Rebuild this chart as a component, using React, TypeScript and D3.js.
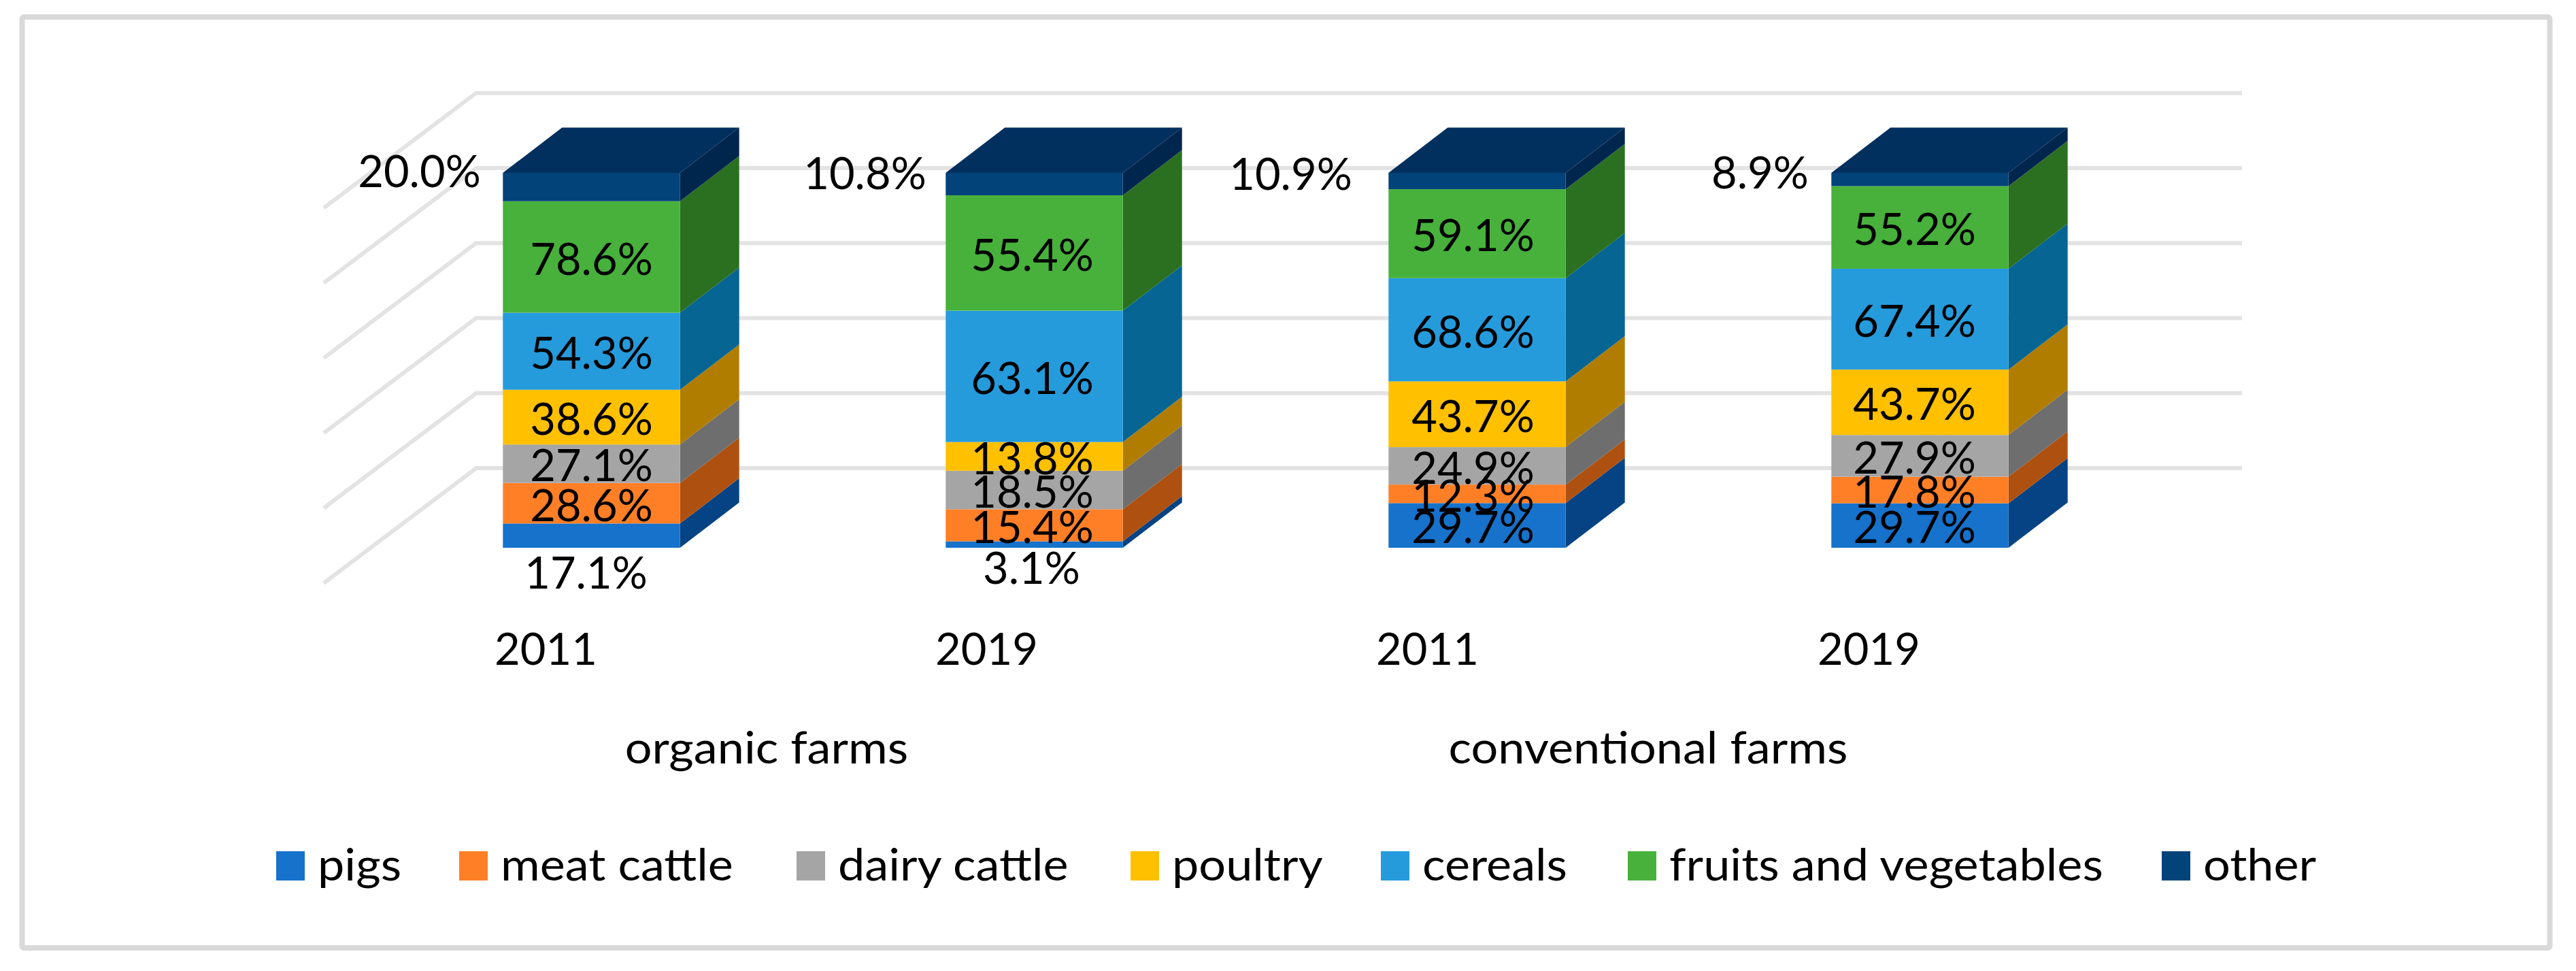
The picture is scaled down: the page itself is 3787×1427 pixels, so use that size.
import * as d3 from 'd3';
import { useEffect, useRef } from 'react';

// order is bottom to top of each stack
const series = ['pigs', 'meat cattle', 'dairy cattle', 'poultry', 'cereals', 'fruits and vegetables', 'other'];
const barIds = ['organic 2011', 'organic 2019', 'conventional 2011', 'conventional 2019'];
const years = ['2011', '2019', '2011', '2019'];
const groups = ['organic farms', 'conventional farms'];

const pigs = [17.1, 3.1, 29.7, 29.7];
const meatCattle = [28.6, 15.4, 12.3, 17.8];
const dairyCattle = [27.1, 18.5, 24.9, 27.9];
const poultry = [38.6, 13.8, 43.7, 43.7];
const cereals = [54.3, 63.1, 68.6, 67.4];
const fruitsAndVegetables = [78.6, 55.4, 59.1, 55.2];
const other = [20.0, 10.8, 10.9, 8.9];
const seriesValues = [pigs, meatCattle, dairyCattle, poultry, cereals, fruitsAndVegetables, other];

const frontColors = ['#1672cb', '#ff7f27', '#a5a5a5', '#ffc000', '#259bdc', '#47b13b', '#024379'];
const sideColors = ['#064384', '#ae5110', '#6e6e6e', '#b07d00', '#066592', '#2b7020', '#01264e'];
const topColor = '#01305f';

const gridTicks = [0, 0.2, 0.4, 0.6, 0.8, 1];

// hand moved labels, same as in the source chart: [series, bar, dx, dy]
const labelNudges: [number, number, number, number][] = [
  [6, 0, -253, -26],
  [6, 1, -249, -19],
  [6, 2, -274, -13],
  [6, 3, -235, -13],
  [0, 0, -8, 52],
  [0, 1, -4, 32],
];
const barLabelShift = [0, -3, -6, -8];

const legendStart = [406, 675, 1171, 1662, 2030, 2393, 3178];

export default function App() {
  const svgRef = useRef<SVGSVGElement>(null);
  const w = 3787;
  const h = 1427;

  useEffect(() => {
    if (svgRef.current == null) {
      return;
    }
    const svg = d3.select(svgRef.current);
    svg.selectAll('*').remove();

    const font = 'Lato';
    const fontSize = 65;
    const wordStretch = 1.08;
    const depthX = 87;
    const depthY = -66.5;

    svg
      .append('rect')
      .attr('x', 32.5)
      .attr('y', 25)
      .attr('width', 3716)
      .attr('height', 1368)
      .attr('rx', 3)
      .attr('fill', 'white')
      .attr('stroke', '#d9d9d9')
      .attr('stroke-width', 8);

    const xScale = d3.scaleBand<string>().domain(barIds).range([544, 3148]).paddingInner(0.6).paddingOuter(0.3);
    const yScale = d3.scaleLinear().domain([0, 1]).range([805, 254]);
    const wallScale = d3.scaleLinear().domain([0, 1]).range([688, 136.7]);

    // back wall and side wall gridlines
    const gridLine = d3.line();
    for (const tick of gridTicks) {
      const y = wallScale(tick);
      svg
        .append('path')
        .attr(
          'd',
          gridLine([
            [476, y + 169],
            [700, y],
            [3296, y],
          ])
        )
        .attr('fill', 'none')
        .attr('stroke', '#e3e3e3')
        .attr('stroke-width', 6);
    }

    const rows = barIds.map((id, i) => {
      const row: Record<string, number | string> = { id };
      series.forEach((name, s) => {
        row[name] = seriesValues[s][i];
      });
      return row;
    });
    const stacked = d3
      .stack<Record<string, number | string>>()
      .keys(series)
      .offset(d3.stackOffsetExpand)(rows as any);

    const poly = d3.line();
    stacked.forEach((layer, s) => {
      layer.forEach((d, i) => {
        const x0 = xScale(barIds[i])!;
        const x1 = x0 + xScale.bandwidth();
        const y0 = yScale(d[0]);
        const y1 = yScale(d[1]);
        svg
          .append('path')
          .attr(
            'd',
            poly([
              [x1, y0],
              [x1 + depthX, y0 + depthY],
              [x1 + depthX, y1 + depthY],
              [x1, y1],
            ]) + 'Z'
          )
          .attr('fill', sideColors[s]);
        svg
          .append('rect')
          .attr('x', x0)
          .attr('y', y1)
          .attr('width', x1 - x0)
          .attr('height', y0 - y1)
          .attr('fill', frontColors[s]);
        if (s == series.length - 1) {
          svg
            .append('path')
            .attr(
              'd',
              poly([
                [x0, y1],
                [x0 + depthX, y1 + depthY],
                [x1 + depthX, y1 + depthY],
                [x1, y1],
              ]) + 'Z'
            )
            .attr('fill', topColor);
        }
      });
    });

    // data labels go on top of every bar
    const addText = (x: number, y: number, text: string, anchor = 'middle') =>
      svg
        .append('text')
        .attr('x', x)
        .attr('y', y)
        .attr('text-anchor', anchor)
        .attr('font-family', font)
        .attr('font-size', fontSize)
        .attr('fill', 'black')
        .text(text);

    // Lato letters run narrower than the chart's font, digits do not
    const addWords = (x: number, y: number, text: string, anchor = 'middle') => {
      const node = addText(x, y, text, anchor);
      const length = (node.node() as SVGTextElement).getComputedTextLength();
      node.attr('textLength', length * wordStretch).attr('lengthAdjust', 'spacingAndGlyphs');
    };

    stacked.forEach((layer, s) => {
      layer.forEach((d, i) => {
        const nudge = labelNudges.find((n) => n[0] == s && n[1] == i);
        const x = xScale(barIds[i])! + xScale.bandwidth() / 2 + (nudge ? nudge[2] : barLabelShift[i]);
        const y = yScale((d[0] + d[1]) / 2) + 26 + (nudge ? nudge[3] : 0);
        addText(x, y, `${seriesValues[s][i].toFixed(1)}%`);
      });
    });

    // category axis, two levels
    years.forEach((year, i) => {
      addText(xScale(barIds[i])! + xScale.bandwidth() / 2 - 67 + barLabelShift[i], 977, year);
    });
    groups.forEach((group, g) => {
      const a = xScale(barIds[g * 2])!;
      const b = xScale(barIds[g * 2 + 1])! + xScale.bandwidth();
      addWords((a + b) / 2 - (g == 1 ? 74 : 68), 1122, group);
    });

    series.forEach((name, s) => {
      svg
        .append('rect')
        .attr('x', legendStart[s])
        .attr('y', 1251)
        .attr('width', 42)
        .attr('height', 43)
        .attr('fill', frontColors[s]);
      addWords(legendStart[s] + 61, 1294, name, 'start');
    });
  }, []);

  return (
    <svg
      ref={svgRef}
      width={w}
      height={h}
      style={{ position: 'absolute', left: 0, top: 0, background: 'white' }}
    ></svg>
  );
}
